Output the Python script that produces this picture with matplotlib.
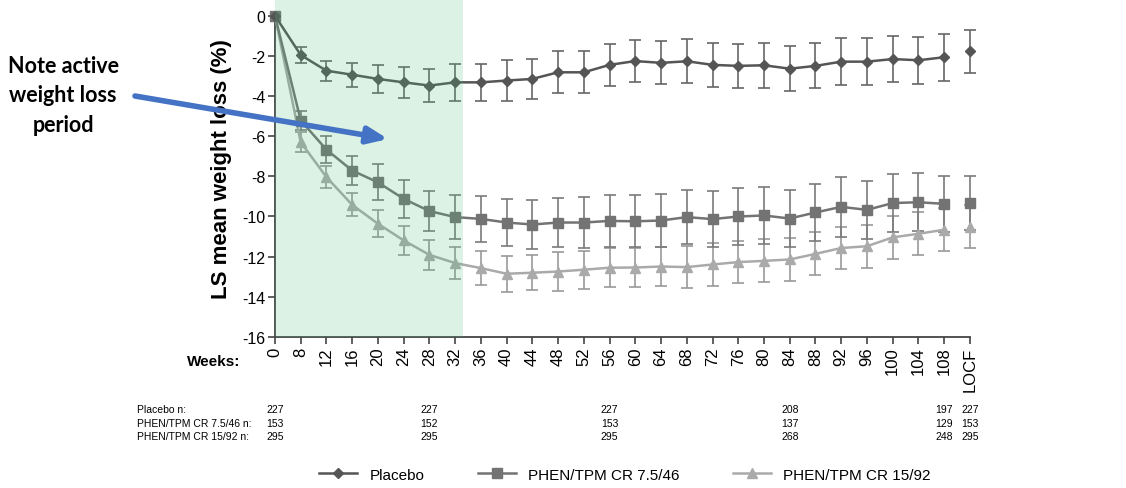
import matplotlib.pyplot as plt

plt.rcParams['font.family'] = ['Liberation Sans', 'DejaVu Sans']

# x categories (weeks), drawn at equal spacing
weeks = ['0', '8', '12', '16', '20', '24', '28', '32', '36', '40', '44', '48', '52', '56',
         '60', '64', '68', '72', '76', '80', '84', '88', '92', '96', '100', '104', '108', 'LOCF']

placebo = [0, -1.96, -2.74, -2.94, -3.15, -3.32, -3.48, -3.32, -3.32, -3.23, -3.15, -2.82, -2.82, -2.45,
           -2.26, -2.35, -2.27, -2.45, -2.50, -2.47, -2.64, -2.50, -2.29, -2.29, -2.16, -2.22, -2.07, -1.76]
placebo_err = [0, 0.39, 0.5, 0.6, 0.7, 0.77, 0.83, 0.91, 0.91, 1.0, 1.0, 1.05, 1.05, 1.06,
               1.06, 1.07, 1.09, 1.09, 1.09, 1.12, 1.12, 1.12, 1.16, 1.16, 1.15, 1.17, 1.17, 1.07]

mid_dose = [0, -5.22, -6.67, -7.71, -8.30, -9.12, -9.73, -10.03, -10.12, -10.30, -10.40, -10.30, -10.30, -10.22,
            -10.24, -10.20, -10.03, -10.13, -10.00, -9.95, -10.10, -9.80, -9.52, -9.67, -9.33, -9.29, -9.37, -9.33]
mid_err = [0, 0.47, 0.66, 0.73, 0.9, 0.93, 1.0, 1.1, 1.14, 1.16, 1.22, 1.22, 1.28, 1.29,
           1.3, 1.33, 1.33, 1.38, 1.4, 1.4, 1.4, 1.4, 1.48, 1.46, 1.44, 1.45, 1.41, 1.34]

top_dose = [0, -6.30, -8.04, -9.42, -10.36, -11.19, -11.91, -12.32, -12.57, -12.85, -12.80, -12.74, -12.65, -12.55,
            -12.54, -12.49, -12.52, -12.39, -12.27, -12.21, -12.14, -11.86, -11.57, -11.48, -11.04, -10.86, -10.66, -10.50]
top_err = [0, 0.5, 0.55, 0.58, 0.66, 0.74, 0.75, 0.8, 0.84, 0.89, 0.88, 0.95, 0.94, 0.97,
           0.96, 0.95, 1.04, 1.07, 1.06, 1.07, 1.06, 1.07, 1.06, 1.06, 1.06, 1.08, 1.06, 1.06]

# numbers at risk
n_weeks = ['0', '28', '56', '84', '108', 'LOCF']
n_placebo = [227, 227, 227, 208, 197, 227]
n_mid = [153, 152, 153, 137, 129, 153]
n_top = [295, 295, 295, 268, 248, 295]
n_labels = ['Placebo n:', 'PHEN/TPM CR 7.5/46 n:', 'PHEN/TPM CR 15/92 n:']

fig = plt.figure(figsize=(11.26, 4.89), dpi=100)
ax = fig.add_axes([0.2442, 0.3088, 0.6172, 0.6912])

x = list(range(len(weeks)))
series = [
    (placebo, placebo_err, 'Placebo', 'D', 5.5, '#555555', '#666666'),
    (mid_dose, mid_err, 'PHEN/TPM CR 7.5/46', 's', 7.5, '#737373', '#7a7a7a'),
    (top_dose, top_err, 'PHEN/TPM CR 15/92', '^', 7.5, '#aaaaaa', '#999999'),
]
for vals, errs, name, mk, ms, col, ecol in reversed(series):
    # line joins weeks 0..108, LOCF is shown on its own
    ax.plot(x[:-1], vals[:-1], color=col, lw=1.8, marker=mk, ms=ms, clip_on=False, zorder=3, label=name)
    ax.plot(x[-1], vals[-1], color=col, marker=mk, ms=ms, clip_on=False, zorder=3)
    ax.errorbar(x[1:], vals[1:], yerr=errs[1:], fmt='none', ecolor=ecol, elinewidth=1.2,
                capsize=4, capthick=1.2, clip_on=False, zorder=2)

# active weight loss period shading
ax.axvspan(0, 7.3, color=(80 / 255, 190 / 255, 120 / 255), alpha=0.2, lw=0, zorder=4)

ax.set_xlim(0, 27)
ax.set_ylim(-16, 0.83)
ax.set_xticks(x)
ax.set_xticklabels(weeks, rotation=90, fontsize=12)
ax.set_yticks(range(-16, 1, 2))
ax.set_yticklabels([str(v) for v in range(-16, 1, 2)], fontsize=11.5)
ax.spines['top'].set_visible(False)
ax.spines['right'].set_visible(False)
ax.spines['left'].set_bounds(-16, 0)
for s in ['left', 'bottom']:
    ax.spines[s].set_color('#444444')
    ax.spines[s].set_linewidth(1.3)
ax.tick_params(direction='out', length=5, width=1.2, color='#444444', pad=2)
ax.set_ylabel('LS mean weight loss (%)', fontsize=16, fontweight='bold')
ax.yaxis.set_label_coords(-0.062, 0.5)

fig.text(240 / 1126, 1 - 362 / 489, 'Weeks:', fontsize=11, fontweight='bold', ha='right', va='center')

# numbers at risk table
row_y = [410, 424, 437]
for rv, lab, nums in zip(row_y, n_labels, [n_placebo, n_mid, n_top]):
    fig.text(137 / 1126, 1 - rv / 489, lab, fontsize=7.5, ha='left', va='center')
    for wk, n in zip(n_weeks, nums):
        xi = weeks.index(wk)
        xp = ax.transData.transform((xi, 0))[0] / fig.bbox.width
        fig.text(xp, 1 - rv / 489, str(n), fontsize=7.5, ha='center', va='center')

fig.legend(*[h[::-1] for h in ax.get_legend_handles_labels()], loc='center', ncol=3, frameon=False,
           bbox_to_anchor=(0.555, 0.027), fontsize=11, columnspacing=3.5, handlelength=2.5)

# annotation
fig.text(63 / 1126, 1 - 96 / 489, 'Note active\nweight loss\nperiod', fontsize=15.5, fontweight='bold',
         family='Lato', ha='center', va='center', linespacing=1.5)
ax.annotate('', xy=(388 / 1126, 1 - 140 / 489), xytext=(135 / 1126, 1 - 97 / 489),
            xycoords='figure fraction', textcoords='figure fraction',
            arrowprops=dict(arrowstyle='-|>,head_width=0.5,head_length=1.2', color='#4472c4', lw=4,
                            shrinkA=0, shrinkB=0), zorder=10, annotation_clip=False)

fig.savefig('out.png', dpi=100)
